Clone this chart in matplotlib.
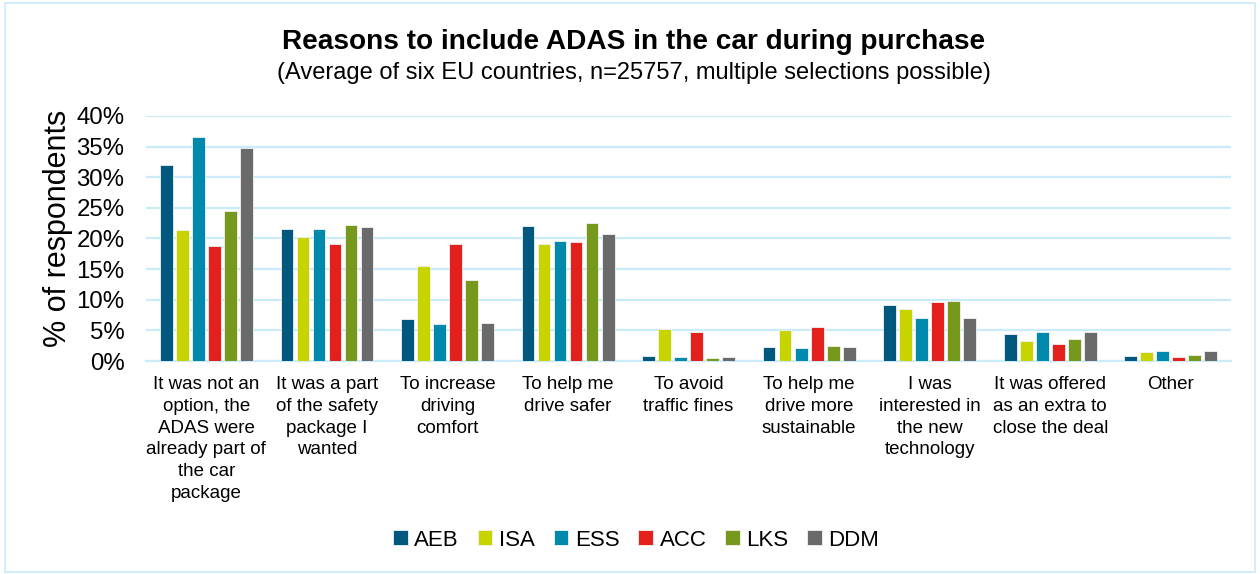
import numpy as np
import matplotlib.pyplot as plt
from matplotlib.patches import Rectangle

plt.rcParams['font.family'] = ['Liberation Sans', 'DejaVu Sans']

# Reasons (x categories) and ADAS systems (series)
reasons = [
    "It was not an\noption, the\nADAS were\nalready part of\nthe car\npackage",
    "It was a part\nof the safety\npackage I\nwanted",
    "To increase\ndriving\ncomfort",
    "To help me\ndrive safer",
    "To avoid\ntraffic fines",
    "To help me\ndrive more\nsustainable",
    "I was\ninterested in\nthe new\ntechnology",
    "It was offered\nas an extra to\nclose the deal",
    "Other",
]
systems = ["AEB", "ISA", "ESS", "ACC", "LKS", "DDM"]
colors = ["#00587F", "#C8D400", "#0088AD", "#E3201B", "#76981D", "#6A6A6A"]

# share of respondents (%) per system, one value per reason
aeb = [32.0, 21.5, 6.9, 22.0, 0.9, 2.3, 9.1, 4.4, 0.8]
isa = [21.4, 20.3, 15.5, 19.1, 5.3, 5.1, 8.5, 3.3, 1.4]
ess = [36.5, 21.5, 6.0, 19.6, 0.6, 2.2, 7.1, 4.8, 1.7]
acc = [18.8, 19.1, 19.1, 19.5, 4.8, 5.6, 9.6, 2.8, 0.7]
lks = [24.5, 22.2, 13.2, 22.6, 0.5, 2.5, 9.8, 3.6, 1.0]
ddm = [34.7, 21.9, 6.2, 20.7, 0.7, 2.3, 7.0, 4.8, 1.7]
series = [aeb, isa, ess, acc, lks, ddm]

yticks = [0, 5, 10, 15, 20, 25, 30, 35, 40]

fig = plt.figure(figsize=(12.6, 5.74), dpi=100)
ax = fig.add_axes([0.116, 0.371, 0.861, 0.427])

x = np.arange(len(reasons))
pitch = 0.133
width = 0.106
for i, (name, vals, col) in enumerate(zip(systems, series, colors)):
    offs = (i - 2.5) * pitch
    ax.bar(x + offs, vals, width, color=col, label=name,
           edgecolor="#F2F2F2", linewidth=0.6, zorder=3)

ax.set_xlim(-0.5, len(reasons) - 0.5)
ax.set_ylim(0, 40)
ax.set_yticks(yticks)
ax.set_yticklabels([f"{t}%" for t in yticks], fontsize=17.3)
ax.yaxis.grid(True, color="#C9EBFA", linewidth=1.6, zorder=0)
ax.set_axisbelow(True)
ax.tick_params(axis="y", length=0, pad=15.5)
ax.tick_params(axis="x", length=0, pad=11)
ax.set_xticks(x)
ax.set_xticklabels(reasons, fontsize=13.5, linespacing=1.36)
for s in ["top", "right", "left"]:
    ax.spines[s].set_visible(False)
ax.spines["bottom"].set_color("#C9EBFA")
ax.spines["bottom"].set_linewidth(1.6)

ax.set_ylabel("% of respondents", fontsize=22)
ax.yaxis.set_label_coords(-0.0675, 0.54)

fig.text(0.503, 0.927, "Reasons to include ADAS in the car during purchase",
         ha="center", va="center", fontsize=20.2, fontweight="bold")
fig.text(0.503, 0.872,
         "(Average of six EU countries, n=25757, multiple selections possible)",
         ha="center", va="center", fontsize=17)

fig.legend(loc="center", bbox_to_anchor=(0.505, 0.059), ncol=6, frameon=False,
           fontsize=16, handlelength=0.65, handleheight=0.65,
           handletextpad=0.3, columnspacing=0.85)

# light frame around the chart
fig.patches.append(Rectangle((0.004, 0.004), 0.992, 0.99, transform=fig.transFigure,
                             fill=False, edgecolor="#C9EBFA", linewidth=1.2))

fig.savefig("out.png", dpi=100)
